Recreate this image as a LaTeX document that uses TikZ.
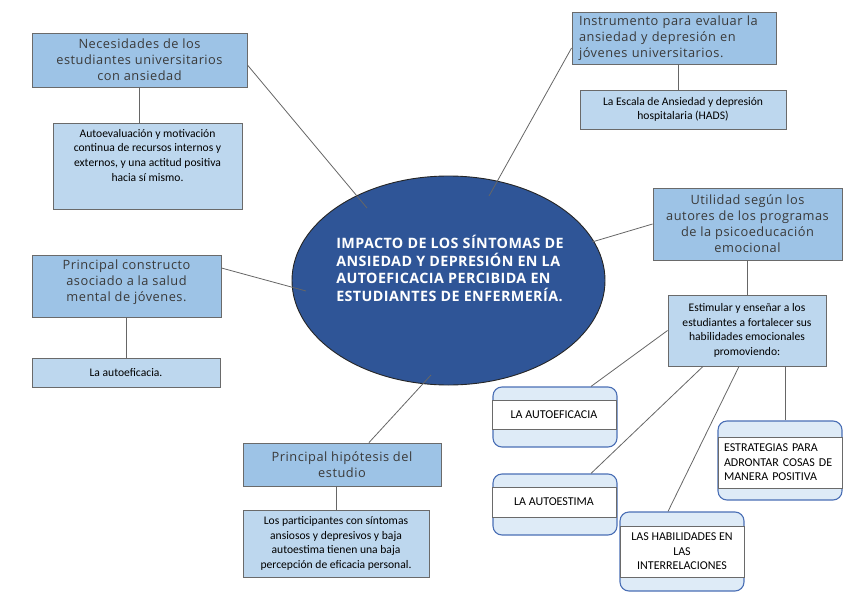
\documentclass[tikz,border=0pt]{standalone}
\usepackage{fontspec}
\setmainfont{Carlito}
\newfontfamily\hdrfont[LetterSpace=4]{Open Sans}
\newfontfamily\ellfont[LetterSpace=3]{Open Sans}
\usetikzlibrary{shapes.geometric,calc}
\definecolor{hdrblue}{HTML}{9DC3E6}
\definecolor{lightblue}{HTML}{BDD7EE}
\definecolor{paleblue}{HTML}{DEEBF7}
\definecolor{ellblue}{HTML}{2F5597}
\definecolor{rndborder}{HTML}{4A6FB5}
\definecolor{boxborder}{HTML}{6A6A6A}
\definecolor{hdrtext}{HTML}{3A3A3A}
\tikzset{
  hdrbox/.style={draw=boxborder, fill=hdrblue, line width=0.9pt, inner sep=0pt, align=center,
    text=hdrtext, font=\hdrfont\fontsize{12.8}{16}\selectfont},
  subbox/.style={draw=boxborder, fill=lightblue, line width=0.9pt, inner sep=0pt, align=center,
    font=\fontsize{11.6}{14.6}\selectfont},
  txt/.style={inner sep=0pt, align=center, font=\fontsize{11.6}{14.6}\selectfont},
  rndbox/.style={draw=rndborder, fill=paleblue, line width=1.1pt, rounded corners=9pt, inner sep=0pt},
  band/.style={draw=boxborder, fill=white, line width=0.9pt, inner sep=0pt, align=center,
    font=\fontsize{12}{14.6}\selectfont},
  conn/.style={draw=black!60, line width=0.8pt},
}
\begin{document}
\begin{tikzpicture}[x=1pt,y=-1pt]
\useasboundingbox (0,0) rectangle (848,599);

% central ellipse
\node[ellipse, draw=black!85, line width=0.9pt, fill=ellblue, minimum width=313pt, minimum height=209pt, inner sep=0pt] (ell) at (448.5,280.5) {};
\node[inner sep=0pt, align=left, text=white, font=\ellfont\bfseries\fontsize{14.3}{17.8}\selectfont] (elltxt) at (450,268.5)
  {IMPACTO DE LOS SÍNTOMAS DE\\ANSIEDAD Y DEPRESIÓN EN LA\\AUTOEFICACIA PERCIBIDA EN\\ESTUDIANTES DE ENFERMERÍA.};

% points inside the ellipse where connectors end
\coordinate (e1) at (367,208);
\coordinate (e2) at (489,196);
\coordinate (e3) at (592,242);
\coordinate (e4) at (306,291);
\coordinate (e5) at (431,375);

% top left
\node[hdrbox, minimum width=215pt, minimum height=54pt] (nec) at (139.5,60)
  {Necesidades de los\\estudiantes universitarios\\con ansiedad};
\node[subbox, minimum width=189pt, minimum height=86pt] (auto) at (147.5,166) {};
\node[txt, anchor=north] (autotxt) at (147.5,129)
  {Autoevaluación y motivación\\continua de recursos internos y\\externos, y una actitud positiva\\hacia sí mismo.};

% top right
\node[hdrbox, minimum width=204pt, minimum height=52pt, text width=190pt, align=left] (instr) at (674,38)
  {Instrumento para evaluar la\\ansiedad y depresión en\\jóvenes universitarios.};
\node[subbox, minimum width=206pt, minimum height=39pt] (hads) at (683,109.5)
  {La Escala de Ansiedad y depresión\\hospitalaria (HADS)};

% left middle
\node[hdrbox, minimum width=189pt, minimum height=62pt] (constr) at (126.5,286)
  {Principal constructo\\asociado a la salud\\mental de jóvenes.\\[-5pt]};
\node[subbox, minimum width=188pt, minimum height=29pt] (autoef) at (126,372.5) {La autoeficacia.};

% bottom middle
\node[hdrbox, minimum width=198pt, minimum height=43pt] (hip) at (342,464.5)
  {Principal hipótesis del\\estudio};
\node[subbox, minimum width=186pt, minimum height=67pt] (partic) at (336,543.5)
  {Los participantes con síntomas\\ansiosos y depresivos y baja\\autoestima tienen una baja\\percepción de eficacia personal.};

% right
\node[hdrbox, minimum width=189pt, minimum height=72pt] (util) at (747.5,224)
  {Utilidad según los\\autores de los programas\\de la psicoeducación\\emocional};
\node[subbox, minimum width=158pt, minimum height=71pt] (estim) at (747,330.5)
  {Estimular y enseñar a los\\estudiantes a fortalecer sus\\habilidades emocionales\\promoviendo:};

% rounded boxes
\node[rndbox, minimum width=124pt, minimum height=60pt] (a1) at (555,417) {};
\node[band, minimum width=124pt, minimum height=29pt] (a1b) at (554,414.5) {LA AUTOEFICACIA};

\node[rndbox, minimum width=124pt, minimum height=61pt] (a2) at (555,504.5) {};
\node[band, minimum width=124pt, minimum height=30pt] (a2b) at (554,502) {LA AUTOESTIMA};

\node[rndbox, minimum width=124pt, minimum height=79pt] (a3) at (682,551.5) {};
\node[band, minimum width=124pt, minimum height=51pt] (a3b) at (682,551.5) {LAS HABILIDADES EN\\LAS\\INTERRELACIONES};

\node[rndbox, minimum width=124pt, minimum height=79pt] (a4) at (780,460.5) {};
\node[band, minimum width=124pt, minimum height=51pt, text width=112pt, align=left] (a4b) at (780,462.5)
  {ESTRATEGIAS PARA\\ADRONTAR COSAS DE\\MANERA POSITIVA};

% connectors
\draw[conn] ($(nec.east)+(0,5)$) -- (e1);
\draw[conn] (nec.south) -- (nec.south |- auto.north);
\draw[conn] ($(instr.west)+(0,10)$) -- (e2);
\draw[conn] ($(instr.south)+(4,0)$) -- ($(instr.south |- hads.north)+(4,0)$);
\draw[conn] (util.west) -- (e3);
\draw[conn] (util.south) -- (util.south |- estim.north);
\draw[conn] ($(constr.east)+(0,-18)$) -- (e4);
\draw[conn] (constr.south) -- (constr.south |- autoef.north);
\draw[conn] ($(hip.north)+(27,0)$) -- (e5);
\draw[conn] (partic.north) -- (partic.north |- hip.south);
\draw[conn] (estim.west) -- ($(a1.north)+(36,0)$);
\draw[conn] ($(estim.south)+(-44,0)$) -- ($(a2.north)+(36,0)$);
\draw[conn] ($(estim.south)+(-8,0)$) -- ($(a3.north)+(-14,0)$);
\draw[conn] ($(a4.north)+(5,0)$) -- ($(estim.south -| a4.north)+(5,0)$);
\end{tikzpicture}
\end{document}
